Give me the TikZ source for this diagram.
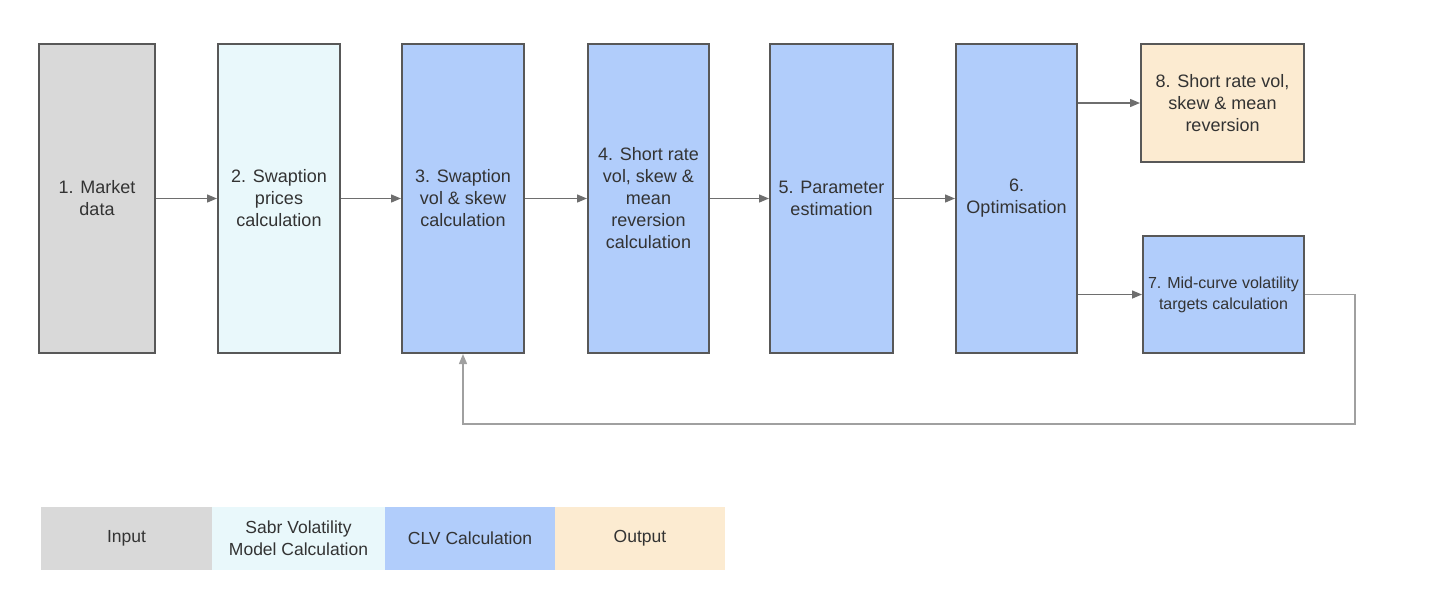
\documentclass[tikz,border=0pt]{standalone}
\usepackage{fontspec}
\setmainfont{Liberation Sans}
\usetikzlibrary{arrows.meta}
\usetikzlibrary{positioning}

\definecolor{inputgray}{HTML}{D9D9D9}
\definecolor{sabrblue}{HTML}{E9F8FB}
\definecolor{clvblue}{HTML}{B1CDFB}
\definecolor{outbeige}{HTML}{FCEBD1}
\definecolor{edgegray}{HTML}{585858}
\definecolor{arrowgray}{HTML}{6E6E6E}
\definecolor{loopgray}{HTML}{A0A0A0}
\definecolor{txtgray}{HTML}{333333}

\begin{document}
\begin{tikzpicture}[x=1pt, y=-1pt,
    stage/.style={draw=edgegray, line width=2pt, align=center, text=txtgray, inner sep=0pt,
        font=\fontsize{18}{22}\selectfont},
    tall/.style={stage, minimum height=309pt},
    flow/.style={-{Triangle[length=10pt,width=8pt]}, draw=arrowgray, line width=1.4pt},
    feedback/.style={-{Triangle[length=10pt,width=8pt]}, draw=loopgray, line width=1.4pt},
    key/.style={inner sep=0pt, minimum height=63pt, align=center, text=txtgray,
        font=\fontsize{17.5}{22}\selectfont}]
    \useasboundingbox (0,0) rectangle (1429,600);

    % stages
    \node[tall, fill=inputgray, minimum width=116pt] (market) at (97,198.5) {1. Market\\data};
    \node[tall, fill=sabrblue, minimum width=122pt] (prices) at (279,198.5) {2. Swaption\\prices\\calculation};
    \node[tall, fill=clvblue, minimum width=122pt] (swpvol) at (463,198.5) {3. Swaption\\vol \& skew\\calculation};
    \node[tall, fill=clvblue, minimum width=121pt] (shortcalc) at (648.5,198.5) {4. Short rate\\vol, skew \&\\mean\\reversion\\calculation};
    \node[tall, fill=clvblue, minimum width=123pt] (param) at (831.5,198.5) {5. Parameter\\estimation};
    \node[tall, fill=clvblue, minimum width=121pt] (optim) at (1016.5,198.5) {6.\\Optimisation};
    \node[stage, fill=outbeige, minimum width=163pt, minimum height=118pt] (shortout) at (1222.5,103) {8. Short rate vol,\\skew \& mean\\reversion};
    \node[stage, fill=clvblue, minimum width=161pt, minimum height=117pt,
        font=\fontsize{16}{21}\selectfont] (midcurve) at (1223.5,294.5) {7. Mid-curve volatility\\targets calculation};

    % connectors
    \draw[flow] (market) -- (prices);
    \draw[flow] (prices) -- (swpvol);
    \draw[flow] (swpvol) -- (shortcalc);
    \draw[flow] (shortcalc) -- (param);
    \draw[flow] (param) -- (optim);
    \draw[flow] (optim.east |- shortout.west) -- (shortout.west);
    \draw[flow] (optim.east |- midcurve.west) -- (midcurve.west);
    \coordinate (loopcorner) at (1355,424);
    \draw[feedback] (midcurve.east) -| (loopcorner) -| (swpvol.south);

    % legend
    \node[key, fill=inputgray, minimum width=171pt] (keyinput) at (126.5,538.5) {Input};
    \node[key, fill=sabrblue, minimum width=173pt] (keysabr) at (298.5,538.5) {Sabr Volatility\\Model Calculation};
    \node[key, fill=clvblue, minimum width=170pt] (keyclv) at (470,538.5) {CLV Calculation};
    \node[key, fill=outbeige, minimum width=170pt] (keyout) at (640,538.5) {Output};
\end{tikzpicture}
\end{document}
